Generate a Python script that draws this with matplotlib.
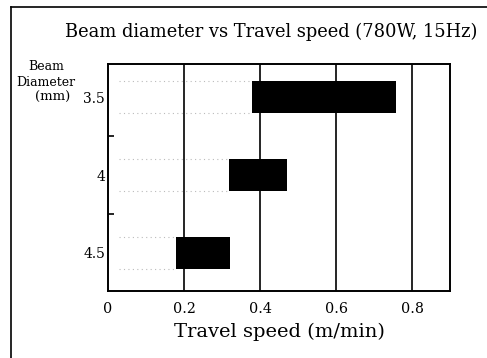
import matplotlib.pyplot as plt
from matplotlib.lines import Line2D

# data
diameters = ["3.5", "4", "4.5"]
speed_min = [0.38, 0.318, 0.179]
speed_max = [0.758, 0.47, 0.321]
x_ticks = [0, 0.2, 0.4, 0.6, 0.8]

plt.rcParams['font.family'] = 'DejaVu Serif'

fig = plt.figure(figsize=(4.87, 3.58), dpi=100)
ax = fig.add_axes([108/487, 67/358, 342/487, 227/358])

ypos = list(range(len(diameters)))
widths = [hi - lo for lo, hi in zip(speed_min, speed_max)]
bar_h = 0.41
ax.barh(ypos, widths, left=speed_min, height=bar_h, color='black', zorder=3)

# faint dotted traces left of each bar (as in the scan)
for y, lo in zip(ypos, speed_min):
    ax.hlines([y - bar_h/2, y + bar_h/2], 0.03, lo, colors='#bbbbbb',
              linestyles=(0, (1, 3)), lw=0.8, zorder=2)

for x in x_ticks[1:]:
    ax.axvline(x, color='black', lw=1.2, zorder=1)

ax.set_xlim(0, 0.9)
ax.set_ylim(2.49, -0.43)
ax.set_xticks(x_ticks)
ax.set_xticklabels(["0", "0.2", "0.4", "0.6", "0.8"], fontsize=10.3)
ax.set_yticks(ypos)
ax.set_yticklabels(diameters, fontsize=10)
ax.set_yticks([0.5, 1.5], minor=True)
ax.tick_params(axis='y', which='major', length=0, pad=2)
ax.tick_params(axis='y', which='minor', direction='in', length=4, width=1.2)
ax.tick_params(axis='x', length=0, pad=8)
for s in ax.spines.values():
    s.set_linewidth(1.4)

ax.set_xlabel("Travel speed (m/min)", fontsize=14, labelpad=5)
fig.text(271/487, 1 - 32/358, "Beam diameter vs Travel speed (780W, 15Hz)",
         fontsize=12.9, ha='center', va='center')

fig.text(46/487, 1 - 67/358, "Beam", fontsize=9, ha='center', va='center')
fig.text(46/487, 1 - 82/358, "Diameter", fontsize=9, ha='center', va='center')
fig.text(70/487, 1 - 97/358, "(mm)", fontsize=9.5, ha='right', va='center')

# outer frame of the scanned figure
fig.add_artist(Line2D([11/487, 1], [1 - 7/358, 1 - 7/358], color='black', lw=1.2))
fig.add_artist(Line2D([11/487, 11/487], [0, 1 - 7/358], color='black', lw=1.2))

fig.savefig("out.png", dpi=100)
